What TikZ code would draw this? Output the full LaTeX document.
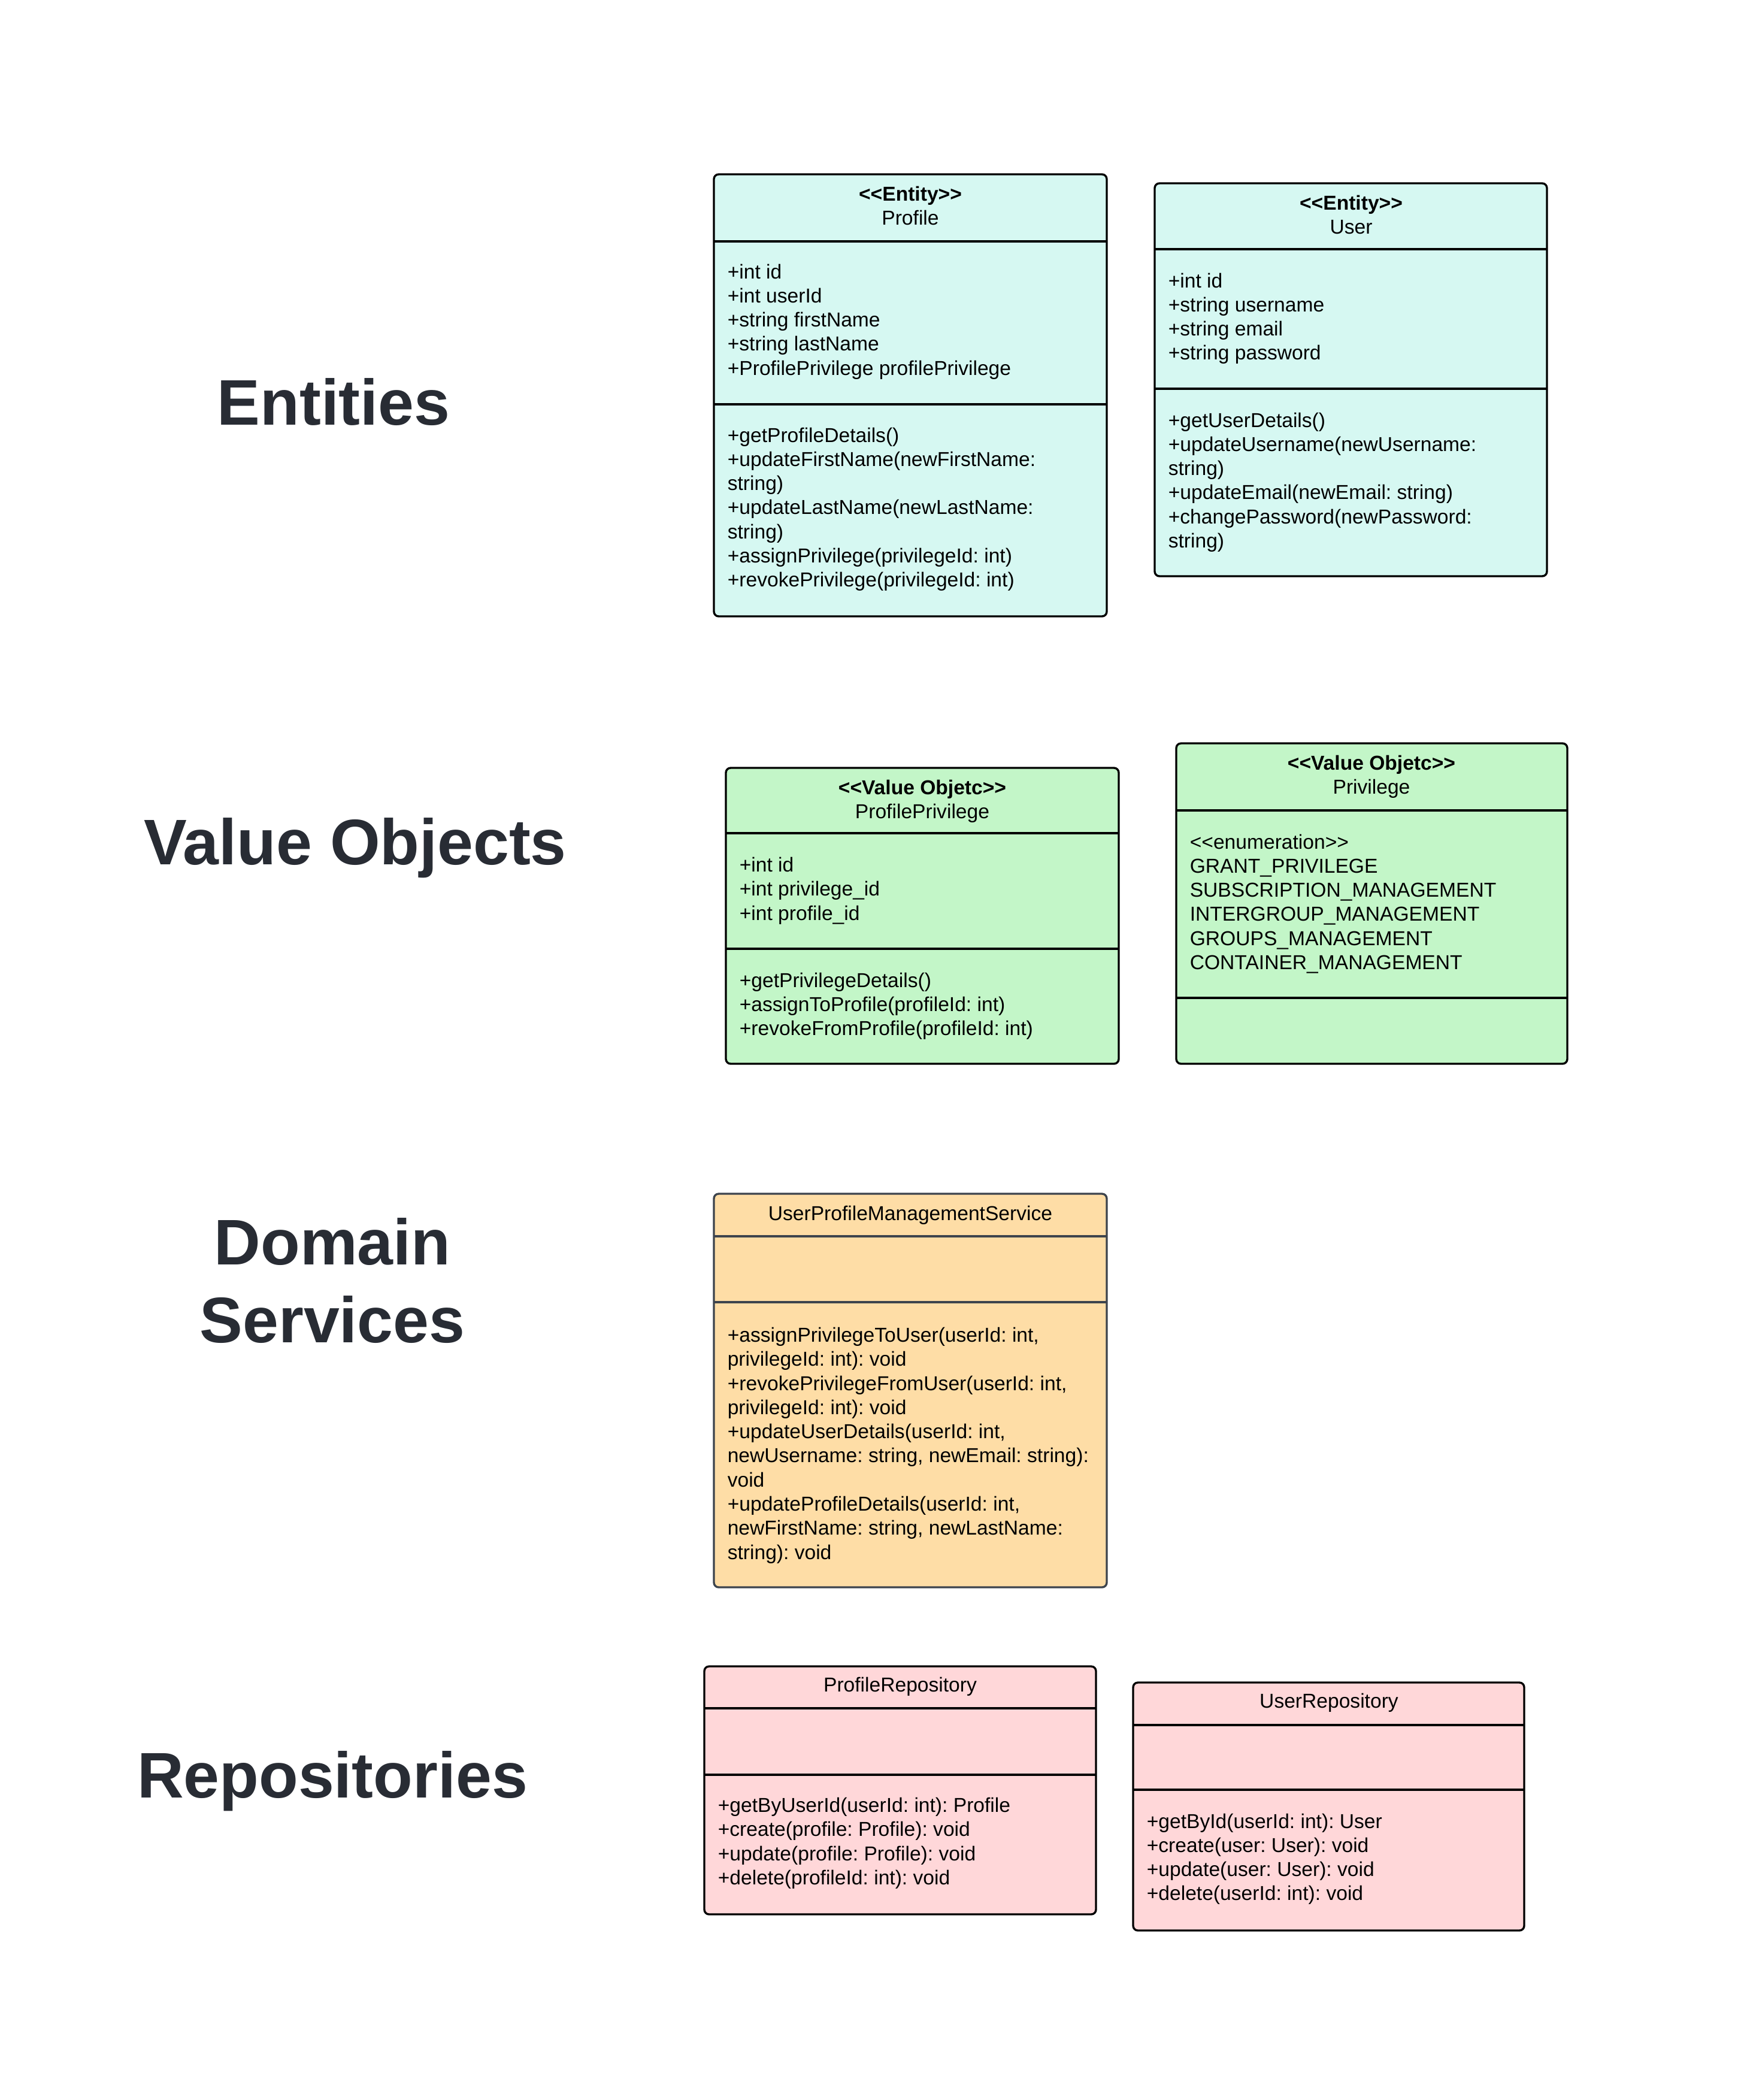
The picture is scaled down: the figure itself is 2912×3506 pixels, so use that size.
\documentclass[tikz,border=0pt]{standalone}
\usepackage{fontspec}
\setmainfont{Liberation Sans}
\frenchspacing
\definecolor{entityfill}{HTML}{D6F8F2}
\definecolor{valuefill}{HTML}{C3F6C8}
\definecolor{servicefill}{HTML}{FEDDA6}
\definecolor{repofill}{HTML}{FFD7D9}
\definecolor{labelink}{HTML}{282C34}
\definecolor{servicedraw}{HTML}{3D444D}
\begin{document}
\begin{tikzpicture}[x=0.25pt,y=-0.25pt,
  classbox/.style={draw=black, line width=0.85pt, rounded corners=2pt},
  divider/.style={draw=black, line width=0.85pt},
  member/.style={anchor=north west, inner sep=0pt, align=left, font=\fontsize{8.4}{10.07}\selectfont},
  title/.style={anchor=north, inner sep=0pt, align=center, font=\fontsize{8.4}{10.07}\selectfont},
  layer/.style={anchor=north, inner sep=0pt, align=center, text=labelink, font=\fontsize{26.9}{32.5}\selectfont\bfseries}]
\useasboundingbox (0,0) rectangle (2912,3506);

% layer headings
\node[layer] (entities) at (557,618) {\strut Entities};
\node[layer] (values) at (593,1352) {\strut Value Objects};
\node[layer] (services) at (555,2020) {\strut Domain\\Services};
\node[layer] (repos) at (555,2910) {\strut Repositories};

% Profile entity
\draw[classbox, fill=entityfill] (1192,291) rectangle (1848,1029);
\draw[divider] (1192,403) -- (1848,403);
\draw[divider] (1192,675) -- (1848,675);
\node[title] (profileT) at (1520,306) {\strut\textbf{<{}<Entity>{}>}\\Profile};
\node[member] (profileA) at (1214,436) {\strut+int id\\+int userId\\+string firstName\\+string lastName\\+ProfilePrivilege profilePrivilege};
\node[member] (profileM) at (1214,709) {\strut+getProfileDetails()\\+updateFirstName(newFirstName:\\string)\\+updateLastName(newLastName:\\string)\\+assignPrivilege(privilegeId: int)\\+revokePrivilege(privilegeId: int)};

% User entity
\draw[classbox, fill=entityfill] (1928,306) rectangle (2583,962);
\draw[divider] (1928,416) -- (2583,416);
\draw[divider] (1928,649) -- (2583,649);
\node[title] (userT) at (2256,321.5) {\strut\textbf{<{}<Entity>{}>}\\User};
\node[member] (userA) at (1950,451) {\strut+int id\\+string username\\+string email\\+string password};
\node[member] (userM) at (1950,684) {\strut+getUserDetails()\\+updateUsername(newUsername:\\string)\\+updateEmail(newEmail: string)\\+changePassword(newPassword:\\string)};

% ProfilePrivilege value object
\draw[classbox, fill=valuefill] (1212,1282) rectangle (1868,1776);
\draw[divider] (1212,1391) -- (1868,1391);
\draw[divider] (1212,1584) -- (1868,1584);
\node[title] (ppT) at (1540,1297) {\strut\textbf{<{}<Value Objetc>{}>}\\ProfilePrivilege};
\node[member] (ppA) at (1234,1426.5) {\strut+int id\\+int privilege\_id\\+int profile\_id};
\node[member] (ppM) at (1234,1619) {\strut+getPrivilegeDetails()\\+assignToProfile(profileId: int)\\+revokeFromProfile(profileId: int)};

% Privilege value object
\draw[classbox, fill=valuefill] (1964,1241) rectangle (2617,1776);
\draw[divider] (1964,1353) -- (2617,1353);
\draw[divider] (1964,1666) -- (2617,1666);
\node[title] (privT) at (2290,1256.5) {\strut\textbf{<{}<Value Objetc>{}>}\\Privilege};
\node[member] (privA) at (1986,1388) {\strut<{}<enumeration>{}>\\GRANT\_PRIVILEGE\\SUBSCRIPTION\_MANAGEMENT\\INTERGROUP\_MANAGEMENT\\GROUPS\_MANAGEMENT\\CONTAINER\_MANAGEMENT};

% Domain service
\draw[classbox, draw=servicedraw, fill=servicefill] (1192,1993) rectangle (1848,2650);
\draw[divider, draw=servicedraw] (1192,2064) -- (1848,2064);
\draw[divider, draw=servicedraw] (1192,2174) -- (1848,2174);
\node[title] (svcT) at (1520,2008) {\strut UserProfileManagementService};
\node[member] (svcM) at (1214,2211.5) {\strut+assignPrivilegeToUser(userId: int,\\privilegeId: int): void\\+revokePrivilegeFromUser(userId: int,\\privilegeId: int): void\\+updateUserDetails(userId: int,\\newUsername: string, newEmail: string):\\void\\+updateProfileDetails(userId: int,\\newFirstName: string, newLastName:\\string): void};

% Profile repository
\draw[classbox, fill=repofill] (1176,2782) rectangle (1830,3196);
\draw[divider] (1176,2852) -- (1830,2852);
\draw[divider] (1176,2963) -- (1830,2963);
\node[title] (prT) at (1503,2795) {\strut ProfileRepository};
\node[member] (prM) at (1198,2996.5) {\strut+getByUserId(userId: int): Profile\\+create(profile: Profile): void\\+update(profile: Profile): void\\+delete(profileId: int): void};

% User repository
\draw[classbox, fill=repofill] (1892,2809) rectangle (2545,3223);
\draw[divider] (1892,2880) -- (2545,2880);
\draw[divider] (1892,2988) -- (2545,2988);
\node[title] (urT) at (2219,2822) {\strut UserRepository};
\node[member] (urM) at (1914,3023) {\strut+getById(userId: int): User\\+create(user: User): void\\+update(user: User): void\\+delete(userId: int): void};
\end{tikzpicture}
\end{document}
